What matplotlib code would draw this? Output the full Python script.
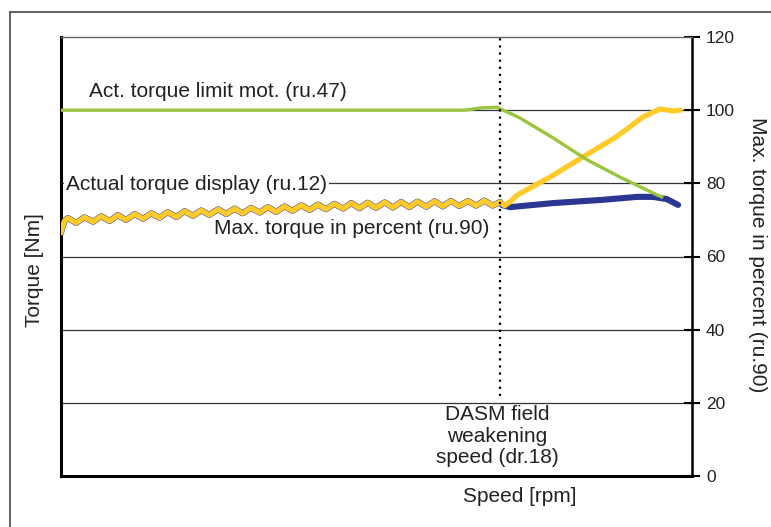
import matplotlib.pyplot as plt
from matplotlib.lines import Line2D

plt.rcParams['font.family'] = ['Liberation Sans', 'DejaVu Sans']

# speed axis has no scale in the original, x is given as percent of the plotted span
field_weak_speed = 69.6

# Actual torque display (ru.12), yellow trace
act_x = [0.0, 0.3, 0.6, 1.1, 2.4, 3.7, 5.1, 6.4, 7.7, 9.0, 10.3, 11.7, 13.0,
         14.3, 15.6, 16.9, 18.3, 19.6, 20.9, 22.2, 23.5, 24.9, 26.2, 27.5, 28.8,
         30.1, 31.5, 32.8, 34.1, 35.4, 36.7, 38.1, 39.4, 40.7, 42.0, 43.3, 44.7,
         46.0, 47.3, 48.6, 49.9, 51.3, 52.6, 53.9, 55.2, 56.5, 57.9, 59.2, 60.5,
         61.8, 63.1, 64.5, 65.8, 67.1, 68.4, 69.6, 70.3,
         71.2, 72.3, 77.5, 82.7, 88.0, 92.2, 94.9, 97.0, 98.1]
act_y = [66.5, 68.5, 69.8, 70.5, 69.2, 70.7, 69.5, 71.0, 69.7, 71.3, 70.0, 71.6, 70.3,
         71.8, 70.6, 72.1, 70.8, 72.4, 71.1, 72.6, 71.4, 72.9, 71.6, 73.1, 71.8,
         73.3, 72.0, 73.5, 72.2, 73.7, 72.5, 74.0, 72.7, 74.2, 72.9, 74.4, 73.1,
         74.6, 73.2, 74.7, 73.3, 74.8, 73.4, 74.9, 73.5, 75.0, 73.6, 75.1, 73.7,
         75.2, 73.8, 75.2, 73.9, 75.3, 73.9, 74.9, 73.9,
         75.0, 76.8, 81.7, 87.2, 92.7, 98.1, 100.3, 99.8, 100.0]

# Act. torque limit mot. (ru.47), green trace
lim_x = [0.0, 64.0, 66.5, 69.1, 70.7, 72.7, 78.0, 83.4, 88.6, 94.5, 95.2]
lim_y = [100.0, 100.0, 100.6, 100.8, 99.5, 97.9, 92.4, 86.4, 81.7, 76.8, 76.3]

# Max. torque in percent (ru.90), blue trace after field weakening
pct_x = [70.0, 71.2, 78.0, 85.9, 91.3, 93.8, 96.0, 97.8]
pct_y = [74.0, 73.5, 74.6, 75.5, 76.3, 76.3, 75.7, 74.1]

yticks = [0, 20, 40, 60, 80, 100, 120]

fig = plt.figure(figsize=(7.71, 5.27), dpi=100)
ax = fig.add_axes([61 / 771, 51 / 527, 631 / 771, 439 / 527])

ax.set_xlim(0, 100)
ax.set_ylim(0, 120)

for v in yticks[1:-1]:
    ax.axhline(v, color='#333333', lw=0.9, zorder=1)

# blue under yellow, it only shows as a thin edge before the field weakening point
blue_x = act_x[:56] + pct_x
blue_y = act_y[:56] + pct_y
ax.plot(blue_x, blue_y, color='#2b3592', lw=4.4, solid_capstyle='round',
        solid_joinstyle='round', zorder=3)
ax.plot(act_x, act_y, color='#ffcb2b', lw=3.8, solid_capstyle='round',
        solid_joinstyle='round', zorder=4)
ax.plot(lim_x, lim_y, color='#9cc43d', lw=2.4, zorder=5)

ax.vlines(field_weak_speed, 22, 120, colors='black', lw=1.6,
          linestyles=(0, (1, 2.2)), zorder=6)

ax.yaxis.tick_right()
ax.set_yticks(yticks)
ax.set_xticks([])
ax.tick_params(axis='y', direction='inout', length=12, width=1.5, pad=4,
               labelsize=12.5, colors='black', labelcolor='#222222')

for side in ['left', 'bottom']:
    ax.spines[side].set_linewidth(2.2)
ax.spines['right'].set_linewidth(1.8)
ax.spines['top'].set_color('#666666')
ax.spines['top'].set_linewidth(1.0)

fs = 15
box = dict(facecolor='white', edgecolor='none', pad=1.5)
ax.text(4.4, 105.0, 'Act. torque limit mot. (ru.47)', fontsize=fs,
        ha='left', va='center', color='#222222', zorder=7)
ax.text(0.8, 79.8, 'Actual torque display (ru.12)', fontsize=fs,
        ha='left', va='center', color='#222222', bbox=box, zorder=7)
ax.text(24.2, 67.6, 'Max. torque in percent (ru.90)', fontsize=fs,
        ha='left', va='center', color='#222222', zorder=7)
ax.text(69.1, 10.9, 'DASM field\nweakening\nspeed (dr.18)', fontsize=fs,
        ha='center', va='center', linespacing=1.15, color='#222222',
        bbox=dict(facecolor='white', edgecolor='none', pad=0.5), zorder=7)

fig.text(520 / 771, 1 - 497 / 527, 'Speed [rpm]', fontsize=fs,
         ha='center', va='center', color='#222222')
fig.text(35 / 771, 1 - 270 / 527, 'Torque [Nm]', fontsize=fs, rotation=90,
         ha='center', va='center', color='#222222')
fig.text(757 / 771, 1 - 255 / 527, 'Max. torque in percent (ru.90)', fontsize=fs,
         rotation=270, ha='center', va='center', color='#222222')

# outer frame, cut by the picture edge on the right and bottom
fig.add_artist(Line2D([10 / 771, 10 / 771], [0, 1 - 12 / 527],
                      color='#555555', lw=1.3, transform=fig.transFigure))
fig.add_artist(Line2D([10 / 771, 1], [1 - 12 / 527, 1 - 12 / 527],
                      color='#555555', lw=1.3, transform=fig.transFigure))

fig.savefig('out.png', dpi=100)
